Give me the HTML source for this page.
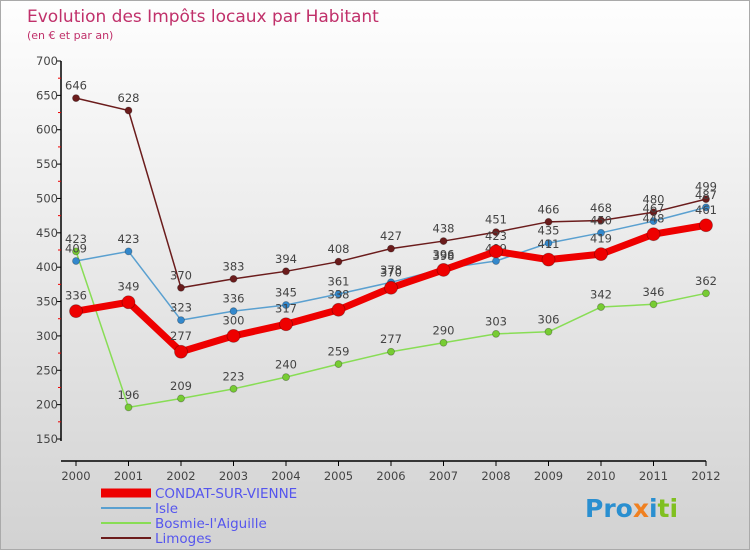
<!DOCTYPE html>
<html><head><meta charset="utf-8"><style>
body{margin:0;width:750px;height:550px;overflow:hidden;font-family:"DejaVu Sans","Liberation Sans",sans-serif}
#wrap{position:relative;width:748px;height:548px;border:1px solid #aaa;background:linear-gradient(#fefefe,#d2d2d2)}
</style></head><body>
<div id="wrap">
<svg id="chart" width="748" height="548" xmlns="http://www.w3.org/2000/svg">
<text x="26" y="21" font-size="17" fill="#c0306a">Evolution des Impôts locaux par Habitant</text>
<text x="26" y="38" font-size="11" fill="#c0306a">(en € et par an)</text>
<g id="axes"></g><g id="series"></g><g id="legend"></g>
<text x="584" y="516" font-size="25" font-weight="bold"><tspan fill="#2a8fd0">Pro</tspan><tspan fill="#f08020">x</tspan><tspan fill="#2a8fd0">i</tspan><tspan fill="#80c020">ti</tspan></text>
</svg></div>
<script>
const years=["2000","2001","2002","2003","2004","2005","2006","2007","2008","2009","2010","2011","2012"];
const yTicks=[150,200,250,300,350,400,450,500,550,600,650,700];
const condat=[336,349,277,300,317,338,370,396,423,411,419,448,461];
const isle=[409,423,323,336,345,361,378,398,409,435,450,467,487];
const bosmie=[423,196,209,223,240,259,277,290,303,306,342,346,362];
const limoges=[646,628,370,383,394,408,427,438,451,466,468,480,499];
const NS="http://www.w3.org/2000/svg";
const X=i=>75+i*52.5, Y=v=>60+(700-v)*(378/550);
function mk(t,a,p){const e=document.createElementNS(NS,t);for(const k in a)e.setAttribute(k,a[k]);p.appendChild(e);return e;}
const ax=document.getElementById('axes');
let e=mk('line',{x1:60,y1:Y(700),x2:60,y2:Y(150)+2,stroke:'#000','stroke-width':1.5},ax);


e=mk('line',{x1:60,y1:Y(150)+22,x2:X(12),y2:Y(150)+22,stroke:'#000','stroke-width':1.5},ax);


yTicks.forEach(v=>{
 mk('line',{x1:56,y1:Y(v),x2:60,y2:Y(v),stroke:'#000'},ax);
 if(v<700)mk('line',{x1:57,y1:Y(v+25),x2:60,y2:Y(v+25),stroke:'#e00'},ax);
 e=mk('text',{x:57,y:Y(v)+4,'font-size':11.5,fill:'#444','text-anchor':'end'},ax);e.textContent=v;
 
 
});
years.forEach((y,i)=>{
 mk('line',{x1:X(i),y1:Y(150)+22,x2:X(i),y2:Y(150)+27,stroke:'#000'},ax);
 e=mk('text',{x:X(i),y:Y(150)+41,'font-size':11.5,fill:'#444','text-anchor':'middle'},ax);e.textContent=y;
 
 
});
const S=document.getElementById('series');
const defs=[{d:bosmie,c:'#88dd55',dot:'#77cc33',w:1.5,r:3.5,n:'bosmie'},{d:limoges,c:'#6b1c1c',dot:'#6b1c1c',w:1.5,r:3.5,n:'limoges'},{d:isle,c:'#5aa0d0',dot:'#3388cc',w:1.5,r:3.5,n:'isle'},{d:condat,c:'#ee0000',dot:'#ee0000',w:7,r:6.5,n:'condat'}];
defs.forEach(s=>{
 const g=mk('g',{},S);
 
 
 const p=mk('polyline',{points:s.d.map((v,i)=>X(i)+','+Y(v)).join(' '),fill:'none',stroke:s.c,'stroke-width':s.w,'stroke-linejoin':'round'},g);
 
 
 s.d.forEach((v,i)=>{
  const c=mk('circle',{cx:X(i),cy:Y(v),r:s.r,fill:s.dot,stroke:'rgba(0,0,0,0.3)','stroke-width':0.8},g);
  
  
  const t=mk('text',{x:X(i),y:Y(v)-(s.r+5),'font-size':11.5,fill:'#444','text-anchor':'middle'},g);t.textContent=v;
  
  
 });
});
const L=document.getElementById('legend');
[['CONDAT-SUR-VIENNE','#ee0000',9,'condat'],['Isle','#5aa0d0',2,'isle'],['Bosmie-l\'Aiguille','#88dd55',2,'bosmie'],['Limoges','#6b1c1c',2,'limoges']].forEach((l,i)=>{
 const y=492+i*15;
 const g=mk('g',{},L);
 
 
 mk('line',{x1:100,y1:y,x2:150,y2:y,stroke:l[1],'stroke-width':l[2]},g);
 const t=mk('text',{x:154,y:y+5,'font-size':13.5,fill:'#5555ee'},g);t.textContent=l[0];
});
</script>
</body></html>
